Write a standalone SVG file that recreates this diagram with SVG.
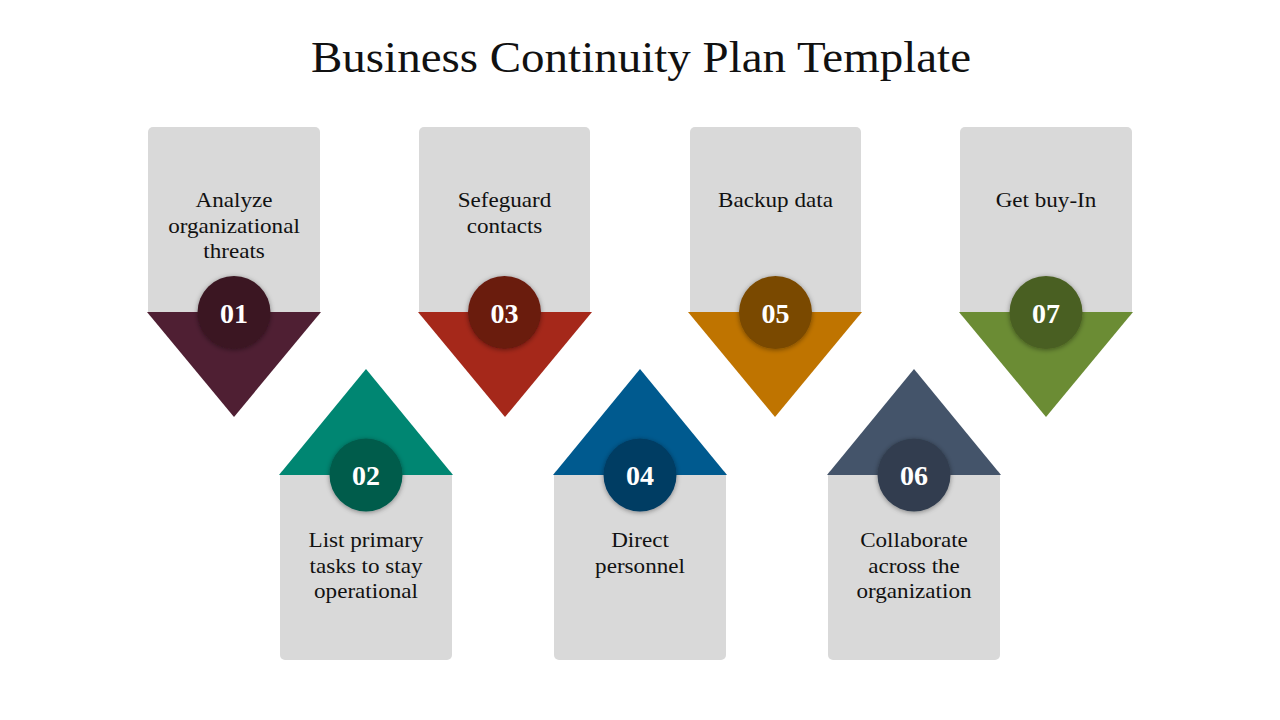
<svg xmlns="http://www.w3.org/2000/svg" width="1280" height="720" viewBox="0 0 1280 720">
<defs>
<filter id="sh" x="-30%" y="-30%" width="160%" height="160%">
<feDropShadow dx="0" dy="1" stdDeviation="2.5" flood-color="#000" flood-opacity="0.4"/>
</filter>
</defs>
<style>
.box{fill:#D9D9D9}
.lbl{font-family:"Liberation Serif","DejaVu Serif",serif;font-size:22px;fill:#111;text-anchor:middle}
.num{font-family:"Liberation Serif","DejaVu Serif",serif;font-size:28px;font-weight:bold;fill:#fff;text-anchor:middle}
.title{font-family:"Liberation Serif","DejaVu Serif",serif;font-size:44px;fill:#111}
.c{filter:url(#sh)}
</style>
<rect width="1280" height="720" fill="#fff"/>
<text class="title" x="311" y="72" textLength="660" lengthAdjust="spacingAndGlyphs">Business Continuity Plan Template</text>
<g id="connectors"></g>

<g id="step01">
<rect class="box" x="148" y="127" width="172" height="190" rx="5"/>
<polygon points="147,312 321,312 234,417" fill="#4F1F33"/>
<circle class="c" cx="234" cy="312.5" r="36.5" fill="#3A1522"/>
<text class="num" x="234" y="322.5">01</text>
<g transform="translate(234 0) scale(1.05 1)">
<text class="lbl" x="0" y="207.5">Analyze</text>
<text class="lbl" x="0" y="233">organizational</text>
<text class="lbl" x="0" y="258.5">threats</text>
</g>
</g>

<g id="step02">
<rect class="box" x="280" y="470" width="172" height="190" rx="5"/>
<polygon points="279,475 453,475 366,369" fill="#008672"/>
<circle class="c" cx="366" cy="475" r="36.5" fill="#005B4C"/>
<text class="num" x="366" y="485">02</text>
<g transform="translate(366 0) scale(1.05 1)">
<text class="lbl" x="0" y="547.5">List primary</text>
<text class="lbl" x="0" y="573">tasks to stay</text>
<text class="lbl" x="0" y="598.5">operational</text>
</g>
</g>

<g id="step03">
<rect class="box" x="419" y="127" width="171" height="190" rx="5"/>
<polygon points="418,312 592,312 505,417" fill="#A5281A"/>
<circle class="c" cx="504.5" cy="312.5" r="36.5" fill="#6B1A10"/>
<text class="num" x="504.5" y="322.5">03</text>
<g transform="translate(504.5 0) scale(1.05 1)">
<text class="lbl" x="0" y="207.5">Sefeguard</text>
<text class="lbl" x="0" y="233">contacts</text>
</g>
</g>

<g id="step04">
<rect class="box" x="554" y="470" width="172" height="190" rx="5"/>
<polygon points="553,475 727,475 640,369" fill="#005A8F"/>
<circle class="c" cx="640" cy="475" r="36.5" fill="#003C63"/>
<text class="num" x="640" y="485">04</text>
<g transform="translate(640 0) scale(1.05 1)">
<text class="lbl" x="0" y="547.5">Direct</text>
<text class="lbl" x="0" y="573">personnel</text>
</g>
</g>

<g id="step05">
<rect class="box" x="690" y="127" width="171" height="190" rx="5"/>
<polygon points="688,312 862,312 775,417" fill="#BF7400"/>
<circle class="c" cx="775.5" cy="312.5" r="36.5" fill="#7A4A00"/>
<text class="num" x="775.5" y="322.5">05</text>
<g transform="translate(775.5 0) scale(1.05 1)">
<text class="lbl" x="0" y="207.5">Backup data</text>
</g>
</g>

<g id="step06">
<rect class="box" x="828" y="470" width="172" height="190" rx="5"/>
<polygon points="827,475 1001,475 914,369" fill="#44546A"/>
<circle class="c" cx="914" cy="475" r="36.5" fill="#323E4F"/>
<text class="num" x="914" y="485">06</text>
<g transform="translate(914 0) scale(1.05 1)">
<text class="lbl" x="0" y="547.5">Collaborate</text>
<text class="lbl" x="0" y="573">across the</text>
<text class="lbl" x="0" y="598.5">organization</text>
</g>
</g>

<g id="step07">
<rect class="box" x="960" y="127" width="172" height="190" rx="5"/>
<polygon points="959,312 1133,312 1046,417" fill="#6B8C34"/>
<circle class="c" cx="1046" cy="312.5" r="36.5" fill="#4A5F22"/>
<text class="num" x="1046" y="322.5">07</text>
<g transform="translate(1046 0) scale(1.05 1)">
<text class="lbl" x="0" y="207.5">Get buy-In</text>
</g>
</g>
</svg>
